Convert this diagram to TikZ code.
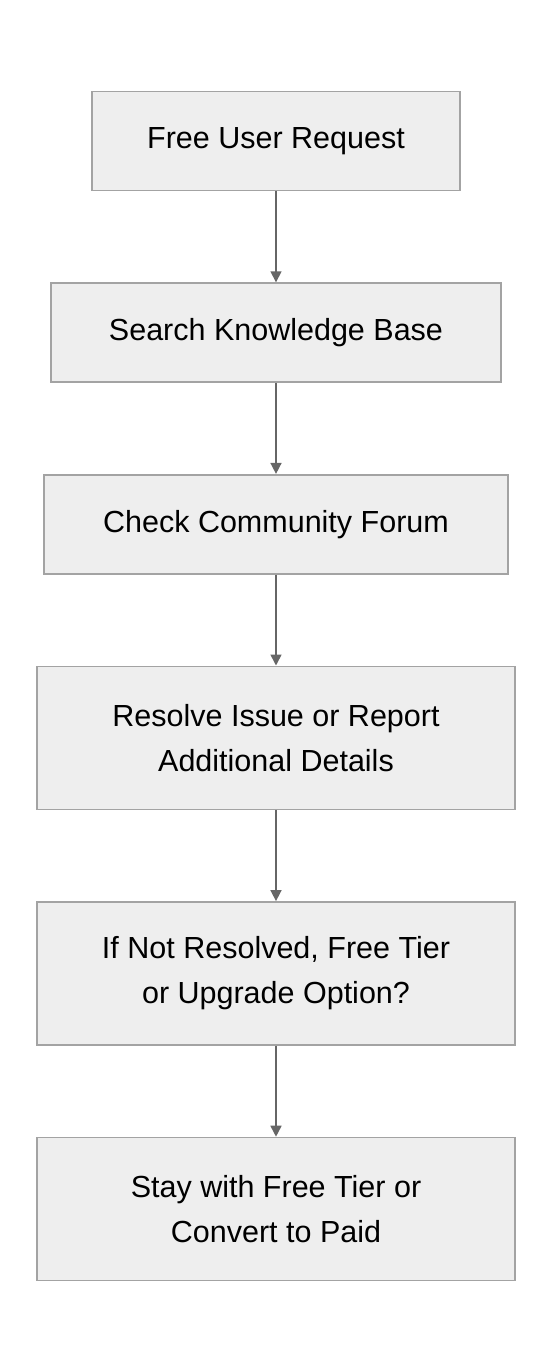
\documentclass[tikz,border=0pt]{standalone}
\usepackage{fontspec}
\setmainfont{Liberation Sans}
\usepackage{tikz}
\usetikzlibrary{positioning,arrows.meta}

\definecolor{boxfill}{HTML}{EEEEEE}
\definecolor{boxline}{HTML}{A3A3A3}
\definecolor{flowline}{HTML}{666666}

\begin{document}
\begin{tikzpicture}[node distance=91pt,
    stepbox/.style={rectangle,draw=boxline,fill=boxfill,line width=1.6pt,
                    align=center,font=\fontsize{30.5}{45}\selectfont,
                    minimum height=99pt,inner sep=0pt},
    tallbox/.style={stepbox,minimum height=143pt,minimum width=478pt},
    flow/.style={-{Triangle[width=11pt,length=11pt]},draw=flowline,fill=flowline,line width=1.6pt}]
  \useasboundingbox (0,0) rectangle (552pt,-1372pt);
  \node[stepbox,minimum width=368pt] (request) at (276pt,-141pt) {Free User Request};
  \node[stepbox,minimum width=450pt] (search) [below=of request] {Search Knowledge Base};
  \node[stepbox,minimum width=464pt] (forum) [below=of search] {Check Community Forum};
  \node[tallbox] (resolve) [below=of forum] {Resolve Issue or Report\\Additional Details};
  \node[tallbox] (tier) [below=of resolve] {If Not Resolved, Free Tier\\or Upgrade Option?};
  \node[tallbox] (convert) [below=of tier] {Stay with Free Tier or\\Convert to Paid};
  \path[flow] (request) edge (search)
              (search) edge (forum)
              (forum) edge (resolve)
              (resolve) edge (tier)
              (tier) edge (convert);
\end{tikzpicture}
\end{document}
